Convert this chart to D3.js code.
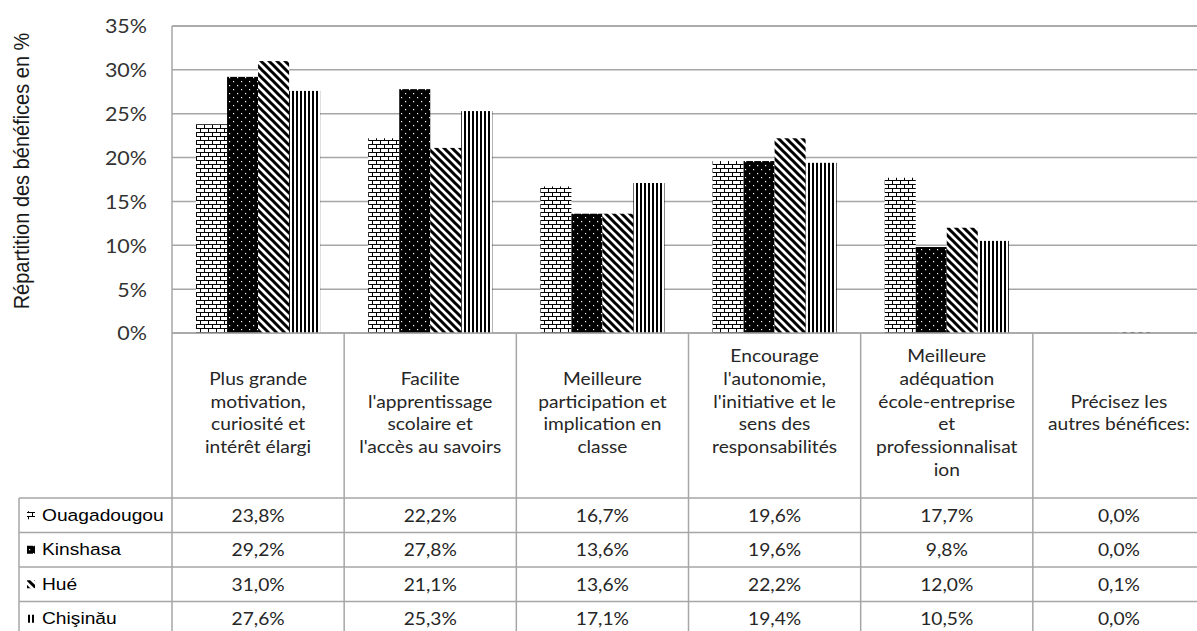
<!DOCTYPE html>
<html><head><meta charset="utf-8">
<script src="https://cdn.jsdelivr.net/npm/d3@7"></script>
<style>html,body{margin:0;padding:0;background:#fff;}svg{display:block;}</style>
</head><body>
<svg id="c" width="1197" height="631"></svg>
<script>
const categories = ["cat1","cat2","cat3","cat4","cat5","cat6"];
const categoryLines = [
  ["Plus grande","motivation,","curiosité et","intérêt élargi"],
  ["Facilite","l'apprentissage","scolaire et","l'accès au savoirs"],
  ["Meilleure","participation et","implication en","classe"],
  ["Encourage","l'autonomie,","l'initiative et le","sens des","responsabilités",""],
  ["Meilleure","adéquation","école-entreprise","et","professionnalisat","ion"],
  ["Précisez les","autres bénéfices:"]
];
const seriesNames = ["Ouagadougou","Kinshasa","Hué","Chişinău"];
const ouagadougou = [23.8, 22.2, 16.7, 19.6, 17.7, 0.0];
const kinshasa    = [29.2, 27.8, 13.6, 19.6, 9.8, 0.0];
const hue         = [31.0, 21.1, 13.6, 22.2, 12.0, 0.1];
const chisinau    = [27.6, 25.3, 17.1, 19.4, 10.5, 0.0];
const seriesValues = [ouagadougou, kinshasa, hue, chisinau];
const yTicks = [0,5,10,15,20,25,30,35];
const yTitle = "Répartition des bénéfices en %";

const svg = d3.select("#c");
const SX = 1.13;
const gridColor = "#a6a6a6";
const plotL = 172, plotR = 1205, plotT = 26, plotB = 333;
const rowH = 34.5, rowTop = 498, legendL = 19;

const x = d3.scaleBand().domain(categories).range([plotL, plotR]).paddingInner(0).paddingOuter(0);
const xs = d3.scaleBand().domain(seriesNames).range([0, x.bandwidth()]).paddingInner(0).paddingOuter(0.775);
const y = d3.scaleLinear().domain([0,35]).range([plotB, plotT]);

// patterns
const defs = svg.append("defs");
const p0 = defs.append("pattern").attr("id","pat0").attr("patternUnits","userSpaceOnUse").attr("width",8).attr("height",8);
p0.append("rect").attr("width",8).attr("height",8).attr("fill","#fff");
p0.append("path").attr("d","M0,0.5H8M0,4.5H8M0.5,0V4.5M4.5,4.5V8").attr("stroke","#000").attr("stroke-width",1).attr("fill","none");
const p1 = defs.append("pattern").attr("id","pat1").attr("patternUnits","userSpaceOnUse").attr("width",8).attr("height",8);
p1.append("rect").attr("width",8).attr("height",8).attr("fill","#000");
p1.append("rect").attr("x",1).attr("y",1).attr("width",1.2).attr("height",1.2).attr("fill","#fff");
p1.append("rect").attr("x",5).attr("y",5).attr("width",1.2).attr("height",1.2).attr("fill","#fff");
const p2 = defs.append("pattern").attr("id","pat2").attr("patternUnits","userSpaceOnUse").attr("width",8).attr("height",8);
p2.append("rect").attr("width",8).attr("height",8).attr("fill","#fff");
p2.append("path").attr("d","M-2,-2L10,10M-2,6L2,10M6,-2L10,2").attr("stroke","#000").attr("stroke-width",3).attr("fill","none");
const p3 = defs.append("pattern").attr("id","pat3").attr("patternUnits","userSpaceOnUse").attr("width",4).attr("height",4);
p3.append("rect").attr("width",4).attr("height",4).attr("fill","#fff");
p3.append("rect").attr("x",0).attr("width",2).attr("height",4).attr("fill","#000");

function txt(g, tx, ty, s, opts) {
  return g.append("text")
    .attr("transform", `translate(${tx},${ty}) scale(${SX},1)`)
    .attr("text-anchor", opts.anchor || "middle")
    .attr("dominant-baseline", "central")
    .attr("font-family", opts.font || "Lato, sans-serif")
    .attr("font-size", opts.size || 17)
    .attr("fill", opts.fill || "#262626")
    .text(s);
}

// gridlines
const grid = svg.append("g");
grid.selectAll("line").data(yTicks).join("line")
  .attr("x1", plotL).attr("x2", plotR)
  .attr("y1", d => y(d)).attr("y2", d => y(d))
  .attr("stroke", gridColor).attr("stroke-width", 1.5);

// y axis labels
const yax = svg.append("g");
yTicks.forEach(t => txt(yax, 147, y(t), t + "%", {anchor:"end", size:19, fill:"#333"}));

// y title
svg.append("text")
  .attr("transform", `translate(22,171) rotate(-90) scale(1,${SX})`)
  .attr("text-anchor","middle").attr("dominant-baseline","central")
  .attr("font-family","'Liberation Sans', Arial, sans-serif").attr("font-size",20)
  .attr("fill","#1a1a1a").text(yTitle);

// bars
const bars = svg.append("g");
seriesValues.forEach((vals, si) => {
  bars.selectAll(null).data(vals).join("rect")
    .attr("x", (d,i) => x(categories[i]) + xs(seriesNames[si]))
    .attr("width", xs.bandwidth())
    .attr("y", d => y(d))
    .attr("height", d => y(0) - y(d))
    .attr("fill", `url(#pat${si})`);
});

// table lines
const tbl = svg.append("g").attr("stroke", gridColor).attr("stroke-width", 1.5);
categories.forEach((c,i) => {
  tbl.append("line").attr("x1", x(c)).attr("x2", x(c))
    .attr("y1", i === 0 ? plotT : plotB).attr("y2", 631);
});
tbl.append("line").attr("x1", plotR).attr("x2", plotR).attr("y1", plotB).attr("y2", 631);
tbl.append("line").attr("x1", legendL).attr("x2", legendL).attr("y1", rowTop).attr("y2", 631);
tbl.append("line").attr("x1", plotL).attr("x2", plotR).attr("y1", plotT).attr("y2", plotT);
tbl.append("line").attr("x1", plotL).attr("x2", plotR).attr("y1", plotB).attr("y2", plotB);
seriesNames.forEach((s,i) => {
  tbl.append("line").attr("x1", legendL).attr("x2", plotR)
    .attr("y1", rowTop + i*rowH).attr("y2", rowTop + i*rowH);
});

// category labels
const cl = svg.append("g");
const lineH = 22.8;
categoryLines.forEach((lines, i) => {
  const cx = x(categories[i]) + x.bandwidth()/2;
  const cy = (plotB + rowTop)/2 - 3;
  const top = cy - (lines.length - 1) * lineH / 2;
  lines.forEach((l, j) => txt(cl, cx, top + j*lineH, l, {size:17}));
});

// values
const fmt = d3.format(".1f");
const vg = svg.append("g");
seriesValues.forEach((vals, si) => {
  const cy = rowTop + si*rowH + rowH/2;
  vals.forEach((v, i) => {
    txt(vg, x(categories[i]) + x.bandwidth()/2, cy, fmt(v).replace(".", ",") + "%", {size:17});
  });
  vg.append("rect").attr("x", 27).attr("y", cy - 4).attr("width", 8).attr("height", 8)
    .attr("fill", `url(#pat${si})`);
  txt(vg, 42, cy, seriesNames[si], {anchor:"start", size:17, font:"'Liberation Sans', Arial, sans-serif", fill:"#000"});
});
</script>
</body></html>
